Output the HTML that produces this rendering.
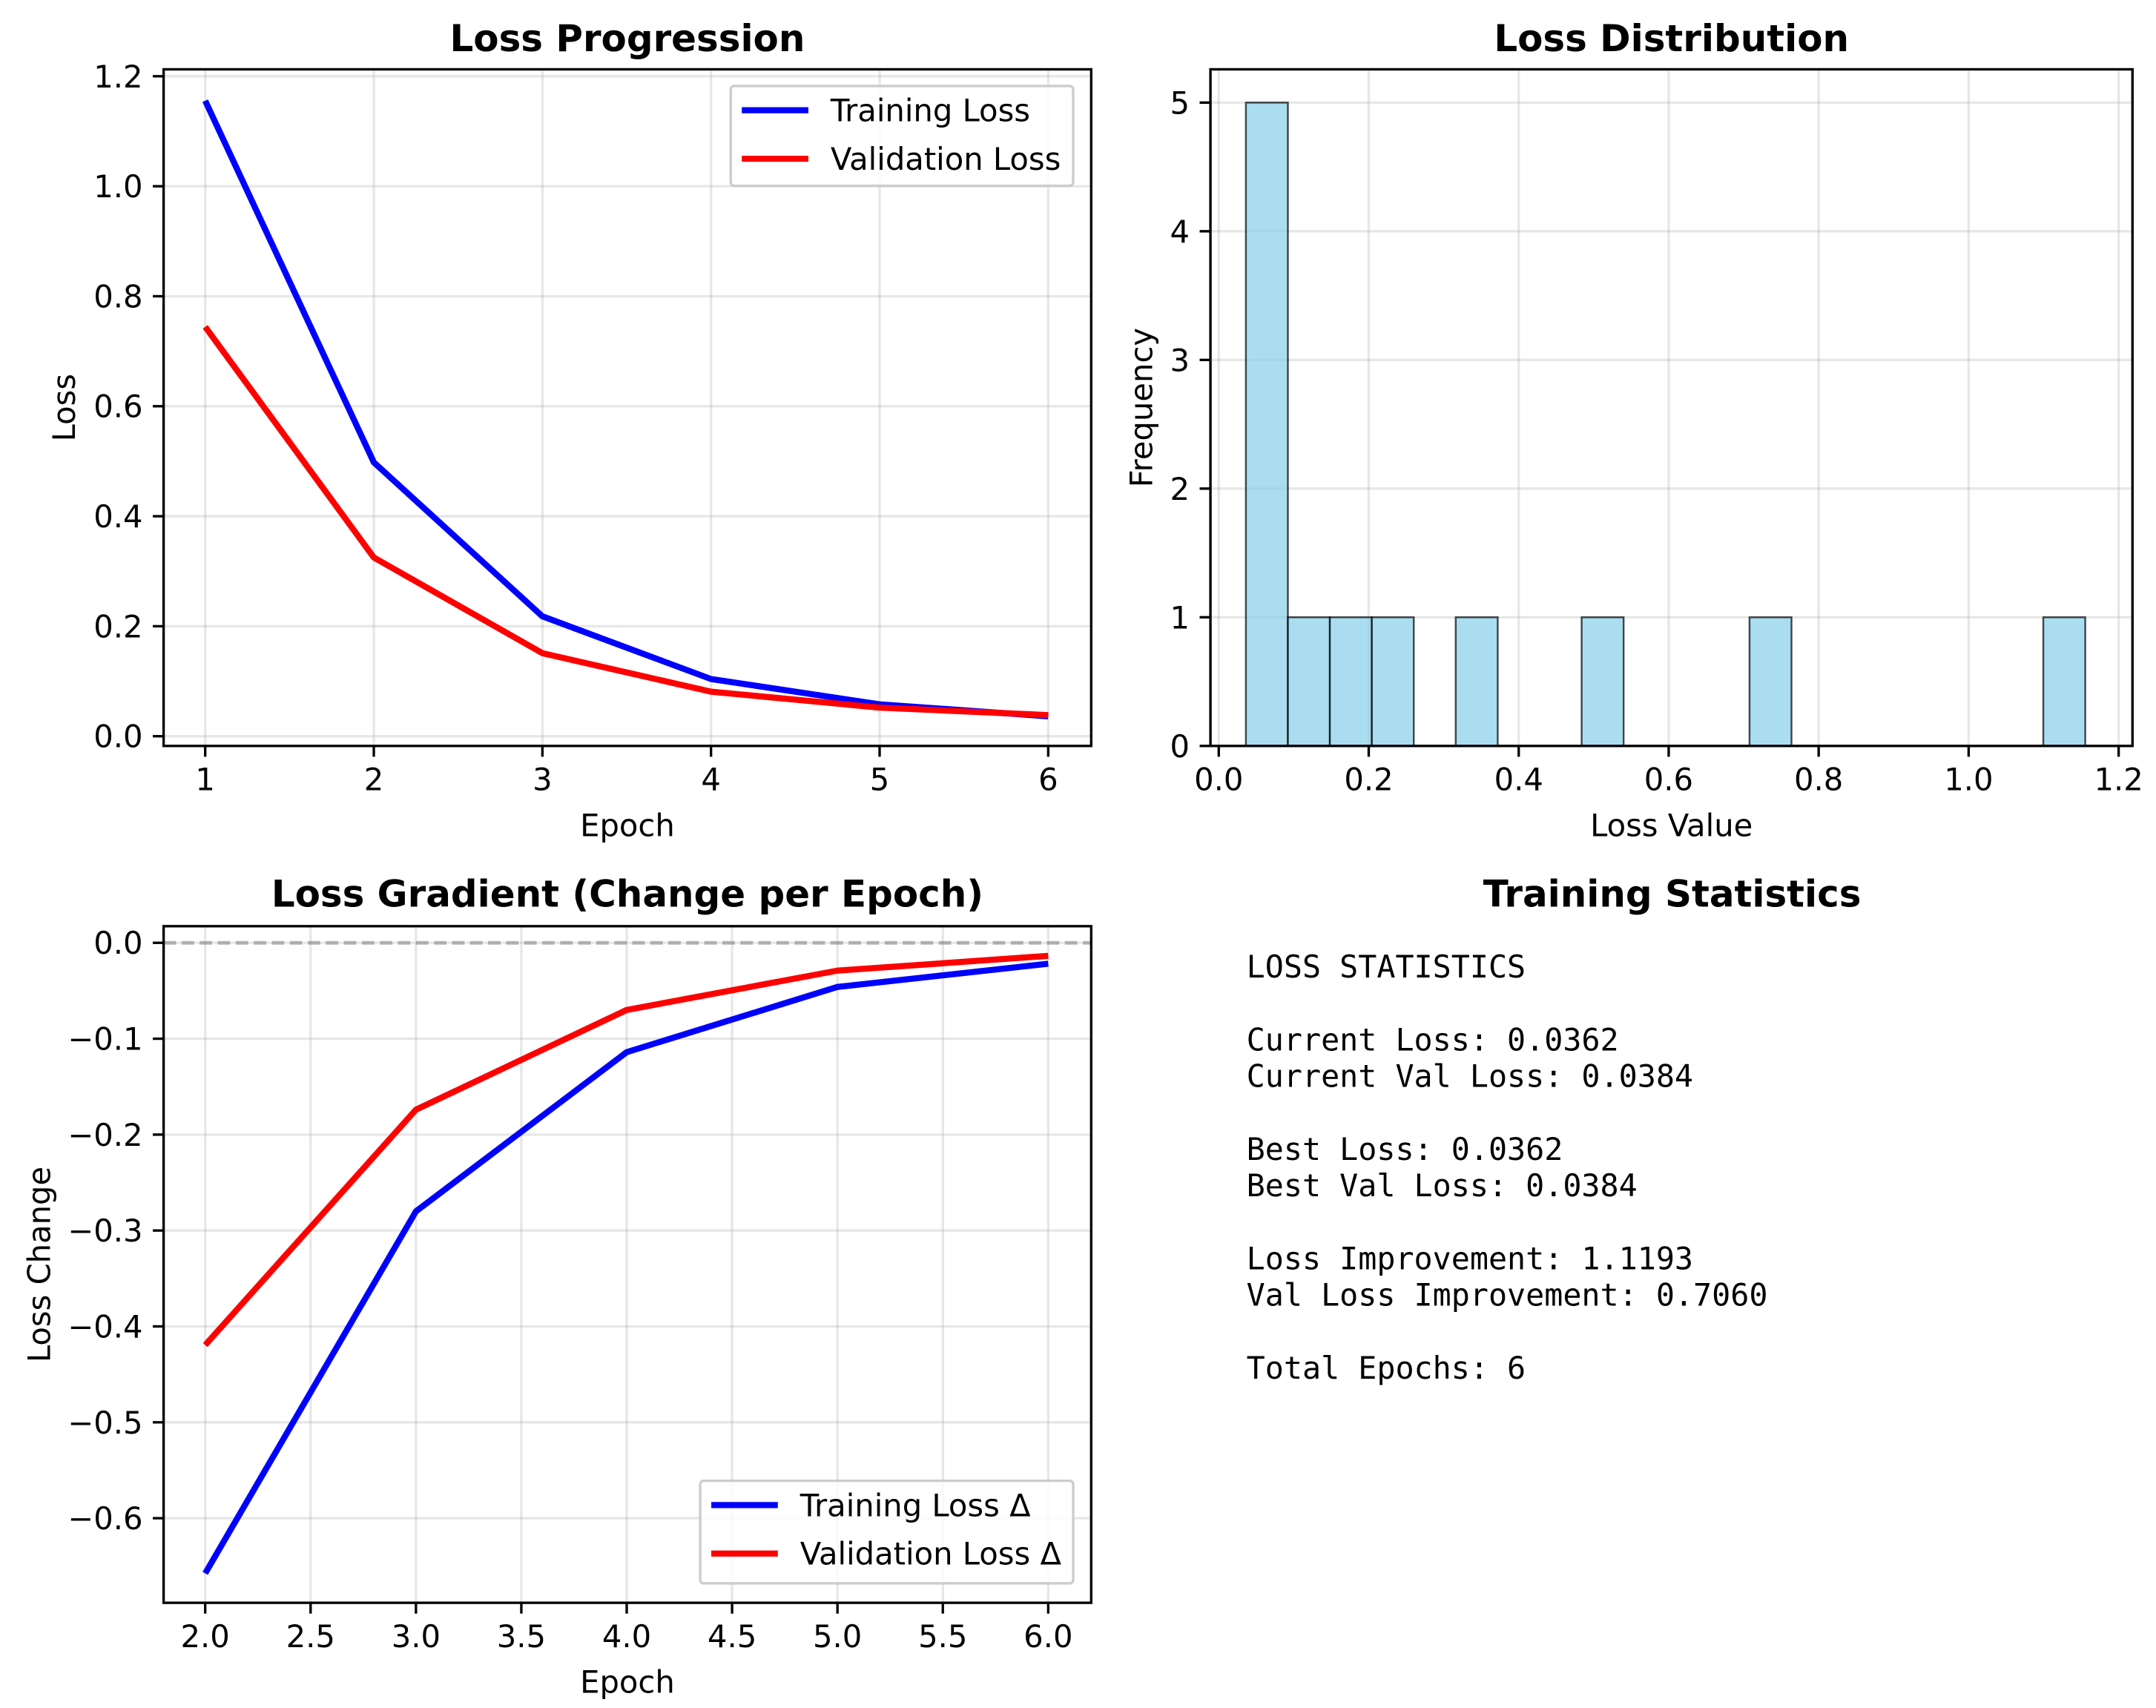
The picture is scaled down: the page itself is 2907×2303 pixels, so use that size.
<!DOCTYPE html>
<html><head><meta charset="utf-8"><style>
html,body{margin:0;padding:0;background:#fff;}
svg{display:block;}
</style></head><body>
<svg id="fig" width="2907" height="2303" viewBox="0 0 2907 2303" xmlns="http://www.w3.org/2000/svg" font-family="'DejaVu Sans','Liberation Sans',sans-serif"></svg>
<script>
const epochs = [1, 2, 3, 4, 5, 6];
const trainLoss = [1.1555, 0.498, 0.218, 0.104, 0.058, 0.0362];
const valLoss = [0.7444, 0.325, 0.151, 0.081, 0.052, 0.0384];
const lossTicks = [0, 0.2, 0.4, 0.6, 0.8, 1.0, 1.2];
const histXTicks = [0, 0.2, 0.4, 0.6, 0.8, 1.0, 1.2];
const histYTicks = [0, 1, 2, 3, 4, 5];
const gradXTicks = [2, 2.5, 3, 3.5, 4, 4.5, 5, 5.5, 6];
const gradYTicks = [0, -0.1, -0.2, -0.3, -0.4, -0.5, -0.6];
const statLines = ["LOSS STATISTICS","","Current Loss: 0.0362","Current Val Loss: 0.0384","","Best Loss: 0.0362","Best Val Loss: 0.0384","","Loss Improvement: 1.1193","Val Loss Improvement: 0.7060","","Total Epochs: 6"];

const S = 1.8695;
const NS = "http://www.w3.org/2000/svg";
const svg = document.getElementById('fig');
const SCALED = ['x','y','x1','x2','y1','y2','width','height','rx','stroke-width','font-size'];
function el(tag, attrs, parent, txt){
  const e = document.createElementNS(NS, tag);
  for (const k in attrs){
    let v = attrs[k];
    if (SCALED.includes(k) && typeof v === 'number') v = (v*S).toFixed(2);
    e.setAttribute(k, v);
  }
  if (txt !== undefined) e.textContent = txt;
  (parent || svg).appendChild(e);
  return e;
}
function lin(d0,d1,p0,p1){return v=>p0+(v-d0)*(p1-p0)/(d1-d0);}
function fmt(v,dec){let s=v.toFixed(dec); if(v<0) s='\u2212'+s.slice(1); return s;}
const FT = 22.3, FL = 22.3, FTT = 26.7, LW = 4.4, AW = 1.78, TL = 7.8;

function axesFrame(g,L,R,T,B){
  const f = el('rect',{x:L,y:T,width:R-L,height:B-T,fill:'none',stroke:'#000','stroke-width':AW},g);
  
  
}
function xTicks(g,ticks,sx,L,R,T,B,dec){
  ticks.forEach(v=>{
    const x=sx(v);
    const gl=el('line',{x1:x,x2:x,y1:T,y2:B,stroke:'#b0b0b0','stroke-opacity':0.3,'stroke-width':AW},g);
     
    el('line',{x1:x,x2:x,y1:B,y2:B+TL,stroke:'#000','stroke-width':AW},g);
    const t=el('text',{x:x,y:B+32,'text-anchor':'middle','font-size':FT},g,fmt(v,dec));
     
  });
}
function yTicks(g,ticks,sy,L,R,T,B,dec){
  ticks.forEach(v=>{
    const y=sy(v);
    const gl=el('line',{x1:L,x2:R,y1:y,y2:y,stroke:'#b0b0b0','stroke-opacity':0.3,'stroke-width':AW},g);
     
    el('line',{x1:L-TL,x2:L,y1:y,y2:y,stroke:'#000','stroke-width':AW},g);
    const t=el('text',{x:L-15,y:y+8,'text-anchor':'end','font-size':FT},g,fmt(v,dec));
     
  });
}
function poly(g,xs,ys,sx,sy,color,name){
  const pts=xs.map((x,i)=>(sx(x)*S).toFixed(2)+','+(sy(ys[i])*S).toFixed(2)).join(' ');
  const p=el('polyline',{points:pts,fill:'none',stroke:color,'stroke-width':LW,'stroke-linejoin':'round'},g);
   
}
function legend(g,x,y,w,h,entries,name){
  const lg=el('g',{},g);
   
  el('rect',{x:x,y:y,width:w,height:h,rx:2.5,fill:'#fff','fill-opacity':0.8,stroke:'#ccc','stroke-width':AW},lg);
  entries.forEach((e,i)=>{
    const yy=y+17.5+i*35;
    el('line',{x1:x+8,x2:x+56,y1:yy,y2:yy,stroke:e[1],'stroke-width':LW},lg);
    const t=el('text',{x:x+72,y:yy+8,'font-size':FL},lg,e[0]);
     
  });
}
function rotText(g,cx,cy,txt,name){
  const t=el('text',{x:0,y:0,'text-anchor':'middle','font-size':FL,transform:'translate('+(cx*S).toFixed(2)+','+(cy*S).toFixed(2)+') rotate(-90)'},g,txt);
   
}
function txt(g,x,y,s,size,bold,name){
  const a={x:x,y:y,'text-anchor':'middle','font-size':size};
  if(bold) a['font-weight']='bold';
  const t=el('text',a,g,s);
   
}

// Panel 1
(function(){
  const L=118,R=787,T=50,B=538;
  const g=el('g',{});  
  const sx=lin(1,6,148,756), sy=lin(0,1.2,531,55);
  xTicks(g,epochs,sx,L,R,T,B,0);
  yTicks(g,lossTicks,sy,L,R,T,B,1);
  poly(g,epochs,trainLoss,sx,sy,'#0000ff','training-loss-line');
  poly(g,epochs,valLoss,sx,sy,'#ff0000','validation-loss-line');
  axesFrame(g,L,R,T,B);
  legend(g,527,62,247,72,[['Training Loss','#0000ff'],['Validation Loss','#ff0000']],'loss-legend');
  txt(g,(L+R)/2,37,'Loss Progression',FTT,true,'chart-title');
  txt(g,(L+R)/2,603,'Epoch',FL,false,'x-axis-title');
  rotText(g,54,294,'Loss','y-axis-title');
})();

// Panel 2 histogram
(function(){
  const L=873,R=1538,T=50,B=538;
  const g=el('g',{});  
  const sx=lin(0,1.2,879,1528), sy=lin(0,5,538,74);
  yTicks(g,histYTicks,sy,L,R,T,B,0);
  xTicks(g,histXTicks,sx,L,R,T,B,1);
  const all=trainLoss.concat(valLoss);
  const mn=Math.min(...all), mx=Math.max(...all), nb=20, w=(mx-mn)/nb;
  const counts=new Array(nb).fill(0);
  all.forEach(v=>{let i=Math.floor((v-mn)/w); if(i>=nb) i=nb-1; counts[i]++;});
  counts.forEach((c,i)=>{
    if(!c) return;
    const x0=sx(mn+i*w), x1=sx(mn+(i+1)*w);
    const b=el('rect',{x:x0,y:sy(c),width:x1-x0,height:sy(0)-sy(c),fill:'#87ceeb','fill-opacity':0.7,stroke:'#000','stroke-opacity':0.7,'stroke-width':1.3},g);
     
  });
  axesFrame(g,L,R,T,B);
  txt(g,(L+R)/2,37,'Loss Distribution',FTT,true,'chart-title');
  txt(g,(L+R)/2,603,'Loss Value',FL,false,'x-axis-title');
  rotText(g,831,294,'Frequency','y-axis-title');
})();

// Panel 3 gradient
(function(){
  const L=118,R=787,T=668,B=1156;
  const g=el('g',{});  
  const sx=lin(2,6,148,756), sy=lin(0,-0.6,680,1095);
  xTicks(g,gradXTicks,sx,L,R,T,B,1);
  yTicks(g,gradYTicks,sy,L,R,T,B,1);
  const z=el('line',{x1:L,x2:R,y1:sy(0),y2:sy(0),stroke:'#808080','stroke-opacity':0.55,'stroke-width':2.6,'stroke-dasharray':(9*S)+','+(4*S)},g);
   
  const ge=epochs.slice(1);
  const dT=ge.map((e,i)=>trainLoss[i+1]-trainLoss[i]);
  const dV=ge.map((e,i)=>valLoss[i+1]-valLoss[i]);
  poly(g,ge,dT,sx,sy,'#0000ff','training-loss-delta-line');
  poly(g,ge,dV,sx,sy,'#ff0000','validation-loss-delta-line');
  axesFrame(g,L,R,T,B);
  legend(g,505,1068,269,74,[['Training Loss \u0394','#0000ff'],['Validation Loss \u0394','#ff0000']],'gradient-legend');
  txt(g,(L+R)/2,654,'Loss Gradient (Change per Epoch)',FTT,true,'chart-title');
  txt(g,(L+R)/2,1221,'Epoch',FL,false,'x-axis-title');
  rotText(g,36,912,'Loss Change','y-axis-title');
})();

// Panel 4 text
(function(){
  const g=el('g',{});  
  txt(g,1206,654,'Training Statistics',FTT,true,'chart-title');
  statLines.forEach((s,i)=>{
    if(!s) return;
    const tl=el('text',{x:899,y:705+i*26.3,'font-size':FT,style:"font-family:'DejaVu Sans Mono','Liberation Mono',monospace"},g,s);
     
  });
})();
</script>
</body></html>
